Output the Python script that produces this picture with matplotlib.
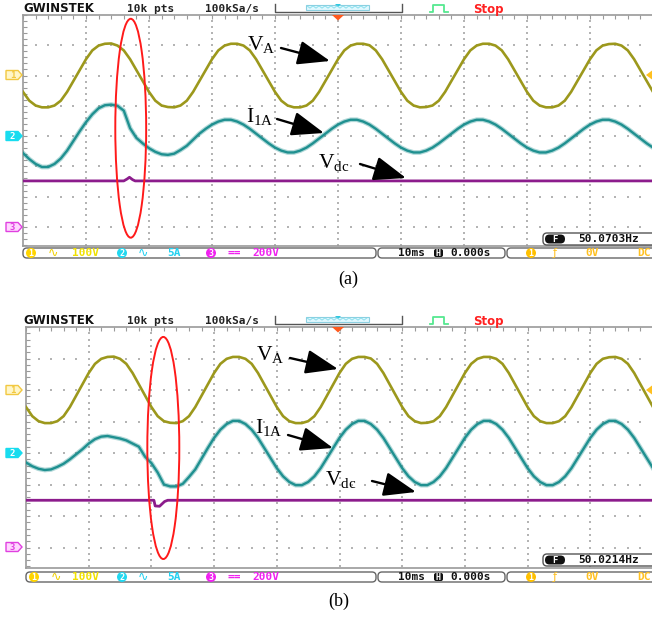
import numpy as np
import matplotlib
matplotlib.use("Agg")
import matplotlib.pyplot as plt
from matplotlib.patches import Ellipse, FancyBboxPatch, Polygon, Circle, FancyArrowPatch, Rectangle

plt.rcParams['mathtext.fontset'] = 'custom'
plt.rcParams['mathtext.rm'] = 'Liberation Serif'
plt.rcParams['mathtext.it'] = 'Liberation Serif:italic'

# sample times in ms, 10 ms/div over the 10 div record
t_ms = np.arange(-50, 51)

# phase voltage V_A (V), same in both captures
v_a = [-54, -83, -99, -105, -105, -99, -83, -54, -18, 18, 54, 83, 99, 105, 106, 99, 83, 54, 18, -18,
       -54, -83, -99, -104, -105, -99, -83, -54, -18, 18, 54, 83, 99, 105, 105, 99, 83, 54, 18, -18,
       -54, -83, -99, -105, -105, -99, -83, -54, -18, 18, 54, 83, 99, 105, 105, 100, 83, 54, 18, -18,
       -54, -83, -99, -105, -104, -99, -83, -54, -18, 18, 54, 83, 99, 105, 105, 99, 83, 54, 18, -18,
       -54, -83, -99, -105, -105, -99, -83, -54, -18, 18, 54, 83, 99, 104, 105, 99, 83, 54, 18, -18,
       -54]

# inverter current I_1A (A), capture (a): large -> small
i_1a_a = [-2.8, -3.8, -4.6, -5.1, -5.1, -4.6, -3.7, -2.4, -0.8, 0.8, 2.3, 3.6, 4.6, 5.1, 5.2, 5.0, 4.2, 1.3, -0.3, -1.2,
          -2.0, -2.6, -3.0, -3.1, -2.9, -2.3, -1.6, -0.6, 0.4, 1.2, 1.9, 2.4, 2.7, 2.7, 2.4, 1.9, 1.2, 0.4, -0.4, -1.2,
          -1.9, -2.4, -2.7, -2.7, -2.4, -1.9, -1.2, -0.4, 0.4, 1.2, 1.9, 2.4, 2.7, 2.7, 2.4, 1.9, 1.2, 0.4, -0.4, -1.2,
          -1.9, -2.4, -2.7, -2.7, -2.4, -1.9, -1.2, -0.4, 0.4, 1.2, 1.9, 2.4, 2.7, 2.7, 2.4, 1.9, 1.2, 0.4, -0.4, -1.2,
          -1.9, -2.4, -2.7, -2.7, -2.4, -1.9, -1.2, -0.4, 0.4, 1.2, 1.9, 2.4, 2.7, 2.7, 2.4, 1.9, 1.2, 0.4, -0.4, -1.2,
          -1.9]

# inverter current I_1A (A), capture (b): small -> large
i_1a_b = [-1.5, -2.1, -2.5, -2.7, -2.6, -2.2, -1.7, -1.0, -0.2, 0.6, 1.5, 2.2, 2.6, 2.7, 2.5, 2.3, 2.0, 1.5, 1.0, -0.6,
          -1.6, -3.1, -5.0, -5.3, -5.3, -4.9, -3.8, -2.6, -0.9, 0.8, 2.4, 3.7, 4.6, 5.1, 5.1, 4.6, 3.7, 2.4, 0.8, -0.8,
          -2.4, -3.7, -4.6, -5.1, -5.1, -4.6, -3.7, -2.4, -0.8, 0.8, 2.4, 3.7, 4.6, 5.1, 5.1, 4.6, 3.7, 2.4, 0.8, -0.8,
          -2.4, -3.7, -4.6, -5.1, -5.1, -4.6, -3.7, -2.4, -0.8, 0.8, 2.4, 3.7, 4.6, 5.1, 5.1, 4.6, 3.7, 2.4, 0.8, -0.8,
          -2.4, -3.7, -4.6, -5.1, -5.1, -4.6, -3.7, -2.4, -0.8, 0.8, 2.4, 3.7, 4.6, 5.1, 5.1, 4.6, 3.7, 2.4, 0.8, -0.8,
          -2.4]

# dc-link voltage (V)
vdc_a_t = [-50, -34.0, -33.5, -33.1, -32.6, -32.2, 50]
vdc_a = [304, 304, 316, 328, 312, 304, 304]
vdc_b_t = [-50, -29.6, -29.4, -28.7, -27.9, -27.4, 50]
vdc_b = [300, 300, 264, 262, 292, 300, 300]

freq_a = "50.0703Hz"
freq_b = "50.0214Hz"

# scope channel settings: (units per div, ground offset in div)
CH1 = (100.0, 2.0)
CH2 = (5.0, 0.0)
CH3 = (200.0, -3.0)

OLIVE = '#9c981c'
TEAL = '#1f9090'
PURPLE = '#8c1c8c'
GRID = '#b4b4b4'
EDGE = '#9a9a9a'
MONO = 'DejaVu Sans Mono'

W, H = 652, 617
fig = plt.figure(figsize=(W / 100, H / 100), dpi=100)
fig.patch.set_facecolor('white')


def screen(left_px, top_px, bot_px, xlim, ylim, va, ia, vt, vd, ell):
    ax = fig.add_axes([left_px / W, 1 - bot_px / H, (653 - left_px) / W, (bot_px - top_px) / H])
    ax.set_xlim(*xlim)
    ax.set_ylim(*ylim)
    ax.set_facecolor('white')
    for s in ['top', 'left', 'bottom']:
        ax.spines[s].set_color(EDGE)
        ax.spines[s].set_linewidth(1.2)
    ax.spines['right'].set_visible(False)
    ax.set_xticks(np.arange(-50, 51, 2))
    ax.set_yticks(np.arange(-18, 21) * 0.2)
    ax.tick_params(axis='x', bottom=False, top=True, direction='in', length=3,
                   color=EDGE, labelbottom=False, labeltop=False)
    ax.tick_params(axis='y', left=True, right=False, direction='in', length=3,
                   color=EDGE, labelleft=False)

    # dotted graticule
    ys = np.arange(-18, 21) * 0.2
    for tx in range(-40, 50, 10):
        ax.scatter(np.full(len(ys), tx), ys, s=1.0, marker='s', color=GRID, lw=0, zorder=1)
    xs = np.arange(-50, 51, 2)
    for dy in range(-3, 4):
        ax.scatter(xs, np.full(len(xs), dy), s=1.0, marker='s', color=GRID, lw=0, zorder=1)

    ax.plot(t_ms, np.array(va) / CH1[0] + CH1[1], color=OLIVE, lw=1.9, zorder=3,
            solid_joinstyle='round')
    ia_div = np.array(ia) / CH2[0] + CH2[1]
    ax.plot(t_ms, ia_div, color=TEAL, lw=3.4, alpha=0.35, zorder=3)
    ax.plot(t_ms, ia_div, color=TEAL, lw=1.7, zorder=3, solid_joinstyle='round')
    ax.plot(vt, np.array(vd) / CH3[0] + CH3[1], color=PURPLE, lw=2.0, zorder=3)

    cx, cy, w, h = ell
    ax.add_patch(Ellipse((cx, cy), w, h, fill=False, ec='#ff1a1a', lw=1.4, zorder=4))
    return ax


ax_a = screen(23, 15, 246, (-50, 50), (-3.63, 4.0), v_a, i_1a_a, vdc_a_t, vdc_a,
              (-32.9, 0.26, 4.9, 7.23))
ax_b = screen(26, 327, 568, (-49.5, 50), (-3.65, 4.0), v_a, i_1a_b, vdc_b_t, vdc_b,
              (-28.1, 0.16, 5.1, 7.05))

# overlay in pixel units for the scope furniture and the annotations
ov = fig.add_axes([0, 0, 1, 1], zorder=5)
ov.set_xlim(0, W)
ov.set_ylim(H, 0)
ov.axis('off')
ov.patch.set_alpha(0)


def header(y, top):
    ov.text(23, y, "GWINSTEK", fontsize=8.5, weight='bold', family='DejaVu Sans',
            va='center', ha='left', color='#111111')
    ov.text(127, y, "10k pts", fontsize=8, weight='bold', family=MONO, va='center', color='#222222')
    ov.text(205, y, "100kSa/s", fontsize=8, weight='bold', family=MONO, va='center', color='#222222')
    ov.plot([275, 275, 402, 402], [y - 5, y + 3, y + 3, y - 5], color='#555555', lw=1)
    ov.add_patch(Rectangle((306, y - 4.5), 63, 5.5, fc='#e0f8ff', ec='#8ccfe0', lw=0.8))
    zx = np.arange(307, 369, 3)
    zy = np.where(np.arange(len(zx)) % 2 == 0, y - 3.2, y - 0.8)
    ov.plot(zx, zy, color='#7fdcea', lw=0.6)
    ov.add_patch(Polygon([(335, y - 5), (341, y - 5), (338, y - 2)], fc='#30c8e0', ec='none'))
    ov.plot([430, 433, 433, 444, 444, 448], [y + 3, y + 3, y - 4, y - 4, y + 3, y + 3],
            color='#55e890', lw=1.3)
    ov.text(473, y, "Stop", fontsize=8.5, weight='bold', family='DejaVu Sans', va='center',
            color='#ff2020')
    ov.add_patch(Polygon([(332, top), (344, top), (338, top + 5.5)], fc='#ff5a1e', ec='none'))


def tag(y, num, edge, face, txt):
    pts = [(6, y - 4.5), (18, y - 4.5), (22, y), (18, y + 4.5), (6, y + 4.5)]
    ov.add_patch(Polygon(pts, closed=True, fc=face, ec=edge, lw=1))
    ov.text(12.5, y + 0.3, num, color=txt, fontsize=6.5, weight='bold', ha='center', va='center',
            family=MONO)


def badge(x, y, num, col):
    ov.add_patch(Circle((x, y), 5, fc=col, ec='none'))
    ov.text(x, y + 0.3, num, color='white', fontsize=6, weight='bold', ha='center', va='center',
            family=MONO)


def status(y, x0, fy, freq):
    for xa, xb in [(x0, 376), (378, 505), (507, 664)]:
        ov.add_patch(FancyBboxPatch((xa, y - 5), xb - xa, 10,
                                    boxstyle='round,pad=0,rounding_size=4',
                                    fc='white', ec='#666666', lw=1))
    kw = dict(fontsize=8, weight='bold', family=MONO, va='center', ha='left')
    badge(x0 + 8, y, "1", '#ffd400')
    ov.text(x0 + 25, y, "\u223f", color='#f0d000', fontsize=9, va='center', ha='left')
    ov.text(72, y, "100V", color='#f0e000', **kw)
    badge(122, y, "2", '#22d8f0')
    ov.text(138, y, "\u223f", color='#22d0f0', fontsize=9, va='center', ha='left')
    ov.text(167, y, "5A", color='#22d0f0', **kw)
    badge(211, y, "3", '#f022f0')
    ov.text(228, y, "==", color='#f022f0', **kw)
    ov.text(252, y, "200V", color='#f022f0', **kw)
    ov.text(398, y, "10ms", color='#111111', **kw)
    ov.add_patch(FancyBboxPatch((434, y - 4), 9, 8, boxstyle='round,pad=0,rounding_size=2',
                                fc='#111111', ec='none'))
    ov.text(438.5, y + 0.3, "H", color='white', fontsize=6, weight='bold', family=MONO,
            ha='center', va='center')
    ov.text(450, y, "0.000s", color='#111111', **kw)
    badge(531, y, "1", '#ffc000')
    ov.text(553, y, "\u0192", color='#ffc020', fontsize=8, va='center', ha='left')
    ov.text(585, y, "0V", color='#ffc020', **kw)
    ov.text(637, y, "DC", color='#ffc020', **kw)
    # frequency counter
    ov.add_patch(FancyBboxPatch((543, fy - 6), 120, 12, boxstyle='round,pad=0,rounding_size=4',
                                fc='white', ec='#555555', lw=1))
    ov.add_patch(FancyBboxPatch((545, fy - 4.5), 20, 9, boxstyle='round,pad=0,rounding_size=4.5',
                                fc='#111111', ec='none'))
    ov.text(555, fy + 0.3, "F", color='white', fontsize=6.5, weight='bold', family=MONO,
            ha='center', va='center')
    ov.text(578, fy, freq, color='#111111', **kw)


def trig_level(y):
    ov.add_patch(Polygon([(652, y - 4.5), (652, y + 4.5), (646, y)], fc='#ffc020', ec='none'))


def label(x, y, s):
    ov.text(x, y, s, fontsize=15.5, ha='left', va='baseline', color='black')


def arrow(p0, p1):
    ov.add_patch(FancyArrowPatch(p0, p1, arrowstyle='-|>,head_length=2.0,head_width=0.75',
                                 mutation_scale=10, color='black', lw=1.7,
                                 shrinkA=0, shrinkB=0))


# capture (a)
header(9, 15)
tag(75, "1", '#f2c840', '#fff6c8', '#f2c840')
tag(136, "2", '#18dcef', '#18dcef', 'white')
tag(227, "3", '#e040e0', '#ffd6ff', '#e040e0')
trig_level(75)
status(253, 23, 239, freq_a)
label(247, 50, r'$\mathrm{V}_{\mathrm{A}}$')
arrow((281, 48), (330, 61))
label(246, 122, r'$\mathrm{I}_{\mathrm{1A}}$')
arrow((277, 119), (324, 133))
label(318, 168, r'$\mathrm{V}_{\mathrm{dc}}$')
arrow((360, 164), (406, 178))
ov.text(348, 279, "(a)", fontsize=13, family='Liberation Serif', ha='center', va='center')

# capture (b)
header(321, 327)
tag(390, "1", '#f2c840', '#fff6c8', '#f2c840')
tag(453, "2", '#18dcef', '#18dcef', 'white')
tag(547, "3", '#e040e0', '#ffd6ff', '#e040e0')
trig_level(390)
status(577, 26, 560, freq_b)
label(256, 360, r'$\mathrm{V}_{\mathrm{A}}$')
arrow((290, 358), (338, 369))
label(255, 433, r'$\mathrm{I}_{\mathrm{1A}}$')
arrow((288, 435), (333, 448))
label(325, 485, r'$\mathrm{V}_{\mathrm{dc}}$')
arrow((372, 481), (416, 492))
ov.text(339, 601, "(b)", fontsize=13, family='Liberation Serif', ha='center', va='center')

fig.savefig("out.png", dpi=100, facecolor='white')
